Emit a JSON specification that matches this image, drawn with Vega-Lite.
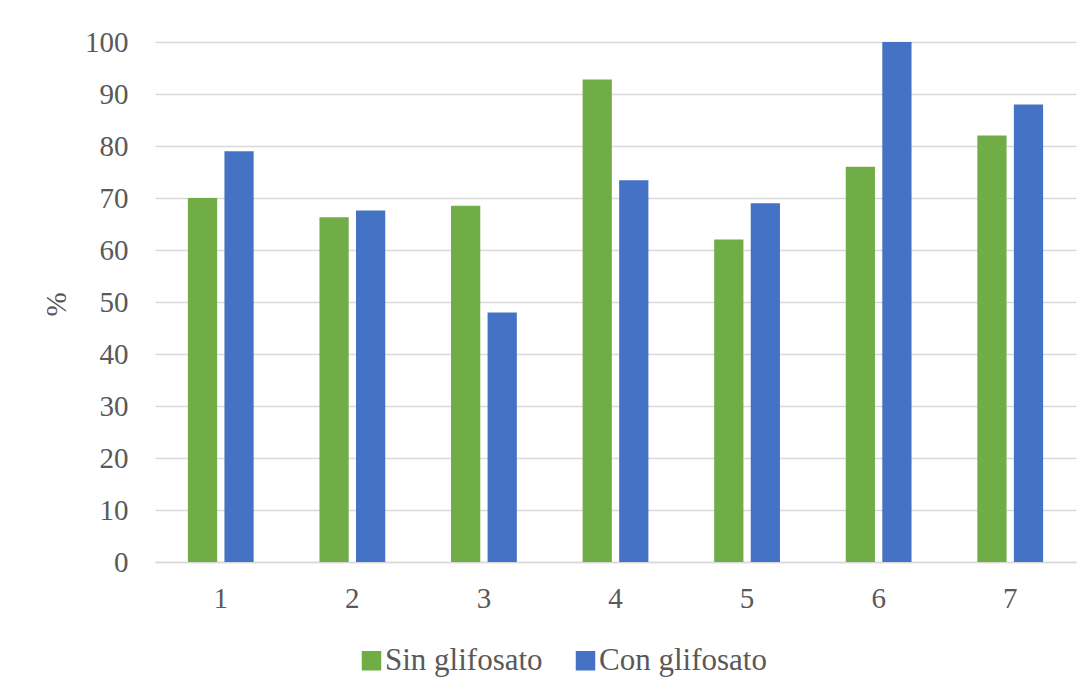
{
  "$schema": "https://vega.github.io/schema/vega-lite/v6.json",
  "width": 921,
  "height": 520,
  "autosize": {"type": "none"},
  "padding": {"left": 155, "top": 42, "right": 12, "bottom": 134},
  "background": "#ffffff",
  "config": {
    "view": {"stroke": null},
    "font": "Liberation Serif"
  },
  "data": {
    "values": [
      {"grupo": "1", "serie": "Sin glifosato", "pct": 70},
      {"grupo": "1", "serie": "Con glifosato", "pct": 79},
      {"grupo": "2", "serie": "Sin glifosato", "pct": 66.3},
      {"grupo": "2", "serie": "Con glifosato", "pct": 67.6},
      {"grupo": "3", "serie": "Sin glifosato", "pct": 68.5},
      {"grupo": "3", "serie": "Con glifosato", "pct": 48},
      {"grupo": "4", "serie": "Sin glifosato", "pct": 92.8},
      {"grupo": "4", "serie": "Con glifosato", "pct": 73.4},
      {"grupo": "5", "serie": "Sin glifosato", "pct": 62},
      {"grupo": "5", "serie": "Con glifosato", "pct": 69},
      {"grupo": "6", "serie": "Sin glifosato", "pct": 76},
      {"grupo": "6", "serie": "Con glifosato", "pct": 100},
      {"grupo": "7", "serie": "Sin glifosato", "pct": 82},
      {"grupo": "7", "serie": "Con glifosato", "pct": 88}
    ]
  },
  "mark": {"type": "bar"},
  "encoding": {
    "x": {
      "field": "grupo",
      "type": "nominal",
      "scale": {"paddingInner": 0.5, "paddingOuter": 0.25},
      "axis": {
        "title": null,
        "labelAngle": 0,
        "labelFont": "Liberation Serif",
        "labelFontSize": 29,
        "labelColor": "#595959",
        "labelPadding": 22,
        "ticks": false,
        "domainColor": "#d9d9d9",
        "domainWidth": 1.5,
        "grid": false
      }
    },
    "xOffset": {
      "field": "serie",
      "type": "nominal",
      "sort": ["Sin glifosato", "Con glifosato"],
      "scale": {"paddingInner": 0.2, "paddingOuter": 0}
    },
    "y": {
      "field": "pct",
      "type": "quantitative",
      "scale": {"domain": [0, 100], "nice": false},
      "axis": {
        "title": "%",
        "titleFont": "Liberation Serif",
        "titleFontSize": 29,
        "titleFontWeight": "normal",
        "titleColor": "#595959",
        "titleX": -99,
        "titleY": 262,
        "titleAlign": "center",
        "titleBaseline": "middle",
        "values": [0, 10, 20, 30, 40, 50, 60, 70, 80, 90, 100],
        "labelFont": "Liberation Serif",
        "labelFontSize": 29,
        "labelColor": "#595959",
        "labelPadding": 27,
        "ticks": false,
        "domain": false,
        "gridColor": "#d9d9d9",
        "gridWidth": 1.5
      }
    },
    "color": {
      "field": "serie",
      "type": "nominal",
      "scale": {
        "domain": ["Sin glifosato", "Con glifosato"],
        "range": ["#70ad47", "#4472c4"]
      },
      "legend": {
        "title": null,
        "orient": "none",
        "direction": "horizontal",
        "legendX": 201,
        "legendY": 603,
        "symbolType": "square",
        "symbolSize": 380,
        "symbolStrokeWidth": 0,
        "labelFont": "Liberation Serif",
        "labelFontSize": 31,
        "labelColor": "#595959",
        "labelOffset": -2,
        "labelLimit": 0,
        "columnPadding": 27
      }
    }
  }
}
